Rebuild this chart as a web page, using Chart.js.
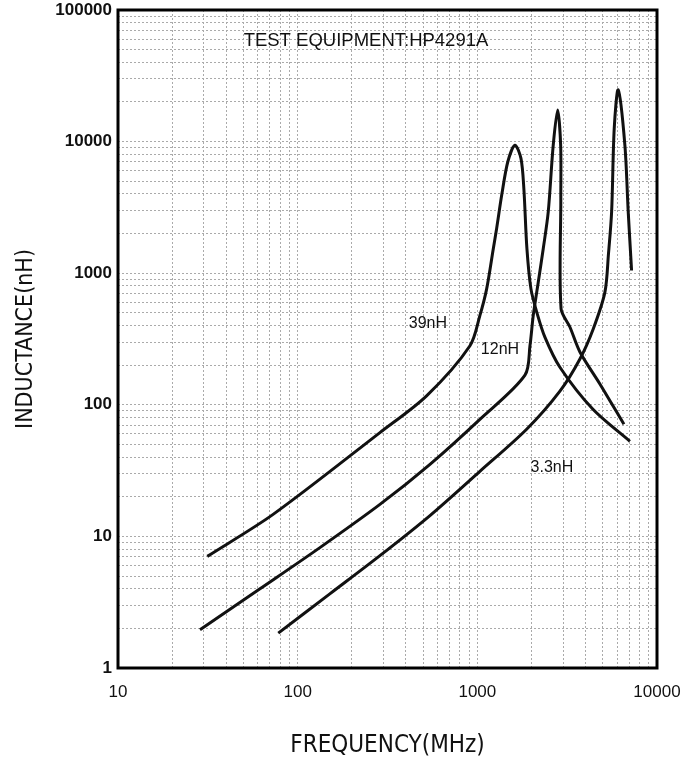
<!DOCTYPE html>
<html>
<head>
<meta charset="utf-8">
<script src="https://cdn.jsdelivr.net/npm/chart.js@4.4.0/dist/chart.umd.min.js"></script>
<style>
  html, body { margin: 0; padding: 0; background: #fff; }
  #wrap { width: 684px; height: 762px; }
</style>
</head>
<body>
<div id="wrap"><canvas id="chart"></canvas></div>
<script>
// Frequency (MHz) and inductance (nH)
const freq39 = [31.4, 73, 287, 522, 910, 1033, 1127, 1227, 1280, 1371, 1479, 1619, 1749, 1815, 1888, 1988, 2148, 2377, 2882, 4400, 7065];
const ind39  = [7.05, 14.7, 61.5, 117, 281, 476, 760, 1535, 2180, 4030, 7060, 9400, 7450, 4400, 1535, 760, 499, 327, 193, 92.5, 52.8];

const freq12 = [28.6, 61.7, 133, 287, 545, 1033, 1841, 1963, 2047, 2183, 2327, 2481, 2645, 2799, 2909, 2915, 2925, 3275, 3724, 4810, 6546];
const ind12  = [1.95, 4.0, 8.22, 17.5, 35.3, 77.6, 168, 281, 476, 855, 1535, 2923, 9400, 17380, 9400, 3690, 535, 390, 252, 144, 71.1];

const freq33 = [78, 151, 287, 545, 1033, 1881, 2882, 3724, 4416, 5130, 5370, 5590, 5780, 6080, 6625, 6915, 7220];
const ind33  = [1.84, 3.66, 7.14, 14.4, 31.2, 65.2, 127, 223, 377, 718, 1406, 2923, 12600, 24700, 9400, 2923, 1049];

const curveNames = ['39nH', '12nH', '3.3nH'];
const xMajorTicks = [10, 100, 1000, 10000];
const yMajorTicks = [1, 10, 100, 1000, 10000, 100000];
const noteText = 'TEST EQUIPMENT:HP4291A';

// where the in-plot texts sit, in data coordinates
const textSpots = [
    { text: noteText, x: 240, y: 58600, size: 18.5 },
    { text: curveNames[0], x: 531, y: 411, size: 16 },
    { text: curveNames[1], x: 1337, y: 265, size: 16 },
    { text: curveNames[2], x: 2600, y: 33.4, size: 16 }
];

function toPoints(xs, ys) {
    return xs.map((x, i) => ({ x: x, y: ys[i] }));
}

// 1..9 x 10^n for every decade between min and max
function logTicks(min, max) {
    const out = [];
    for (let p = Math.round(Math.log10(min)); p < Math.round(Math.log10(max)); p++) {
        for (let d = 1; d < 10; d++) {
            out.push({ value: d * Math.pow(10, p) });
        }
    }
    out.push({ value: max });
    return out;
}

const sans = 'Liberation Sans, Arial, sans-serif';
const narrow = 'Liberation Sans Narrow, Arial Narrow, DejaVu Sans Condensed, sans-serif';

const framePlugin = {
    id: 'frame',
    afterDraw(chart) {
        const ctx = chart.ctx;
        const a = chart.chartArea;
        const xs = chart.scales.x;
        const ys = chart.scales.y;
        ctx.save();
        ctx.strokeStyle = '#000';
        ctx.lineWidth = 3;
        ctx.strokeRect(a.left, a.top, a.right - a.left, a.bottom - a.top);
        ctx.fillStyle = '#111';
        ctx.textAlign = 'center';
        ctx.textBaseline = 'middle';
        textSpots.forEach(t => {
            ctx.font = t.size + 'px ' + sans;
            ctx.fillText(t.text, xs.getPixelForValue(t.x), ys.getPixelForValue(t.y));
        });
        ctx.restore();
    }
};

const lineStyle = {
    borderColor: '#111',
    borderWidth: 3,
    pointRadius: 0,
    fill: false,
    tension: 0.3
};

new Chart(document.getElementById('chart'), {
    type: 'line',
    data: {
        datasets: [
            Object.assign({ label: curveNames[0], data: toPoints(freq39, ind39) }, lineStyle),
            Object.assign({ label: curveNames[1], data: toPoints(freq12, ind12) }, lineStyle),
            Object.assign({ label: curveNames[2], data: toPoints(freq33, ind33) }, lineStyle)
        ]
    },
    options: {
        responsive: true,
        maintainAspectRatio: false,
        animation: false,
        layout: { padding: { top: 10, right: 27, left: 0, bottom: 0 } },
        plugins: {
            legend: { display: false },
            tooltip: { enabled: false }
        },
        scales: {
            x: {
                type: 'logarithmic',
                min: 10,
                max: 10000,
                afterBuildTicks: scale => { scale.ticks = logTicks(10, 10000); },
                afterFit: scale => {
                    scale.height = 94;
                    scale.paddingLeft = 0;
                    scale.paddingRight = 0;
                },
                grid: { color: '#aaa', lineWidth: 1, drawTicks: false },
                border: { display: false, dash: [2, 2] },
                ticks: {
                    autoSkip: false,
                    maxRotation: 0,
                    padding: 14,
                    color: '#111',
                    font: { family: sans, size: 17 },
                    callback: v => xMajorTicks.includes(v) ? String(v) : ''
                },
                title: {
                    display: true,
                    text: 'FREQUENCY(MHz)',
                    color: '#111',
                    font: { family: narrow, size: 24 },
                    padding: { top: 0, bottom: 2 }
                }
            },
            y: {
                type: 'logarithmic',
                min: 1,
                max: 100000,
                afterBuildTicks: scale => { scale.ticks = logTicks(1, 100000); },
                afterFit: scale => {
                    scale.width = 118;
                    scale.paddingTop = 0;
                    scale.paddingBottom = 0;
                },
                grid: { color: '#aaa', lineWidth: 1, drawTicks: false },
                border: { display: false, dash: [2, 2] },
                ticks: {
                    autoSkip: false,
                    padding: 6,
                    color: '#111',
                    font: { family: sans, size: 17, weight: 'bold' },
                    callback: v => yMajorTicks.includes(v) ? String(v) : ''
                },
                title: {
                    display: true,
                    text: 'INDUCTANCE(nH)',
                    color: '#111',
                    font: { family: narrow, size: 23 },
                    padding: { top: 12, bottom: 0 }
                }
            }
        }
    },
    plugins: [framePlugin]
});
</script>
</body>
</html>
